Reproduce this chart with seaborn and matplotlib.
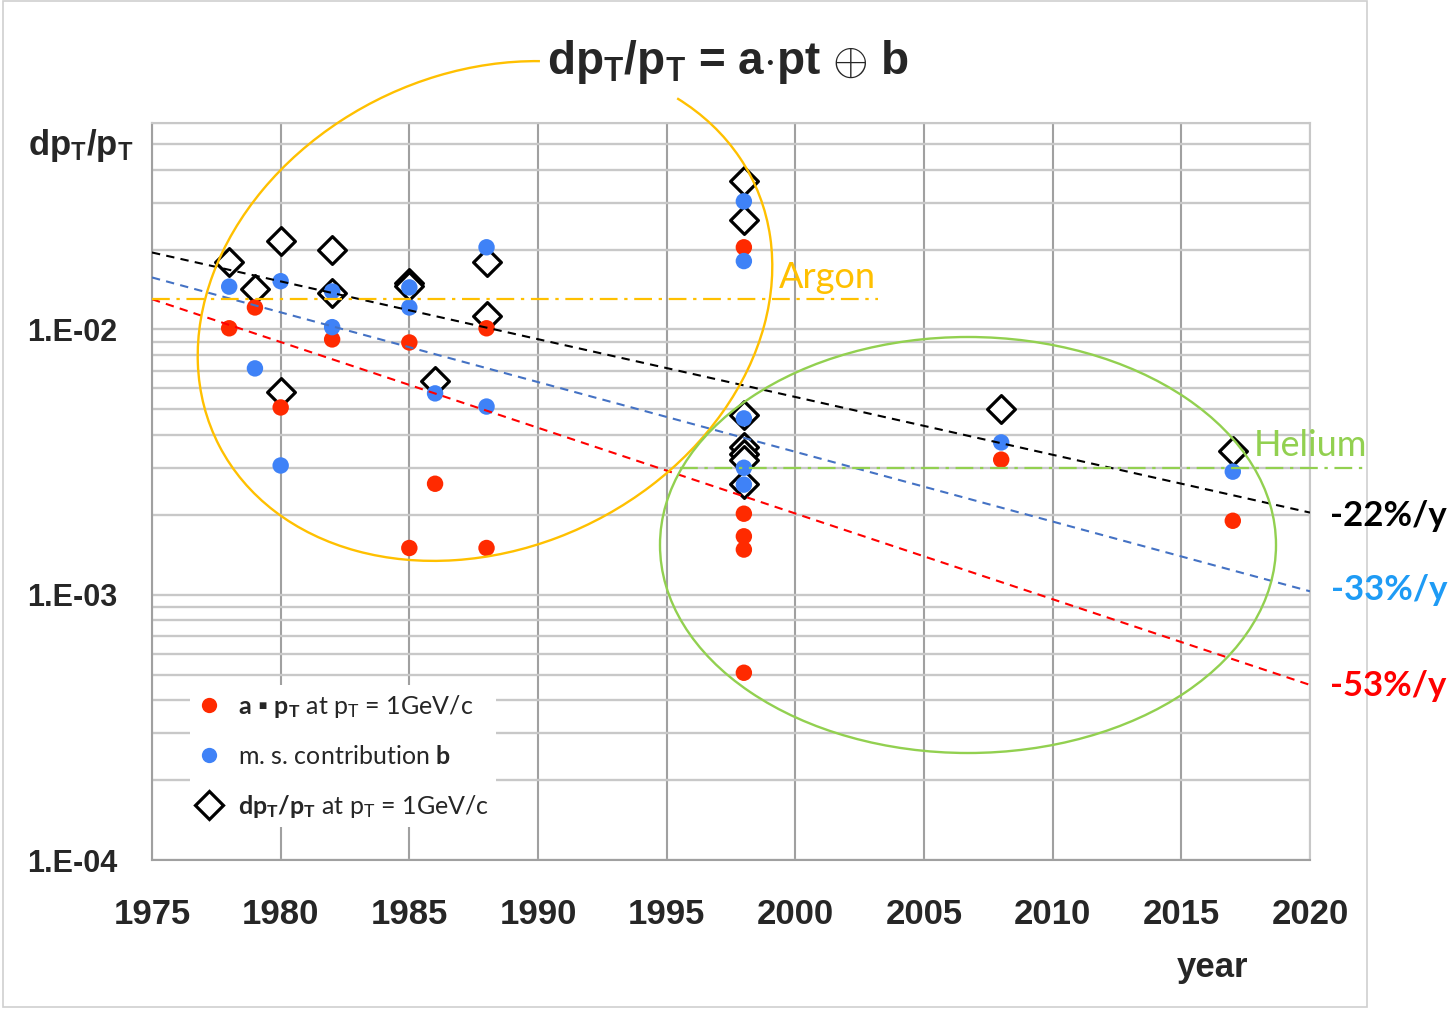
import numpy as np
import pandas as pd
import matplotlib
matplotlib.use("Agg")
import matplotlib.pyplot as plt
import seaborn as sns
from matplotlib.patches import Arc, Ellipse, Rectangle
from matplotlib.lines import Line2D
from matplotlib.ticker import LogLocator, NullFormatter, FuncFormatter, FixedLocator

# ---------------- data ----------------
red_years = [1978, 1979, 1980, 1982, 1985, 1985, 1986, 1988, 1988,
             1998, 1998, 1998, 1998, 1998, 2008, 2017]
red_vals = [0.0101, 0.0121, 0.00508, 0.00917, 0.00893, 0.0015, 0.00262, 0.0101, 0.0015,
            0.0204, 0.00202, 0.00166, 0.00148, 0.000508, 0.00323, 0.0019]

blue_years = [1978, 1979, 1980, 1980, 1982, 1982, 1985, 1985, 1986, 1988, 1988,
              1998, 1998, 1998, 1998, 1998, 2008, 2017]
blue_vals = [0.0145, 0.00713, 0.0152, 0.00307, 0.0139, 0.0102, 0.0144, 0.0121, 0.00574, 0.0204, 0.00512,
             0.0304, 0.0181, 0.00462, 0.00301, 0.0026, 0.00375, 0.00291]

dia_years = [1978, 1979, 1980, 1980, 1982, 1982, 1985, 1985, 1986, 1988, 1988,
             1998, 1998, 1998, 1998, 1998, 1998, 1998, 2008, 2017]
dia_vals = [0.0179, 0.01416, 0.0215, 0.00583, 0.020, 0.0137, 0.0150, 0.0146, 0.00637, 0.0179, 0.0112,
            0.0362, 0.0258, 0.00474, 0.00359, 0.00338, 0.00323, 0.00262, 0.00503, 0.00349]

trend_years = [1975, 2020]
trend_black = [0.0195, 0.00204]   # -22%/y
trend_blue = [0.0157, 0.00103]    # -33%/y
trend_red = [0.0130, 0.000457]    # -53%/y

argon_years = [1975, 2003.2]
argon_level = [0.013, 0.013]
helium_years = [1995.5, 2022.25]
helium_level = [0.003, 0.003]

x_ticks = [1975, 1980, 1985, 1990, 1995, 2000, 2005, 2010, 2015, 2020]
y_ticks = [1e-4, 1e-3, 1e-2]

# ---------------- style ----------------
sns.set_style("white")
plt.rcParams['font.family'] = ['Liberation Sans', 'DejaVu Sans']
plt.rcParams['mathtext.fontset'] = 'custom'
plt.rcParams['mathtext.rm'] = 'Lato'
plt.rcParams['mathtext.it'] = 'Lato:italic'
plt.rcParams['mathtext.bf'] = 'Lato:bold'

W, H = 1448, 1009
fig = plt.figure(figsize=(W / 100, H / 100), dpi=100)
ax = fig.add_axes([152 / W, (H - 860) / H, (1310 - 152) / W, (860 - 123) / H])


def fx(x):
    return x / W


def fy(y):
    return 1 - y / H


RED = '#FF2A00'
BLUE = '#3F82F7'

df_red = pd.DataFrame({'year': red_years, 'val': red_vals})
df_blue = pd.DataFrame({'year': blue_years, 'val': blue_vals})
df_dia = pd.DataFrame({'year': dia_years, 'val': dia_vals})

sns.scatterplot(data=df_dia, x='year', y='val', ax=ax, marker='D', s=200,
                facecolor='white', edgecolor='black', linewidth=2.3, zorder=3, legend=False)
sns.scatterplot(data=df_red, x='year', y='val', ax=ax, marker='o', s=140,
                color=RED, edgecolor='none', linewidth=0, zorder=4, legend=False)
sns.scatterplot(data=df_blue, x='year', y='val', ax=ax, marker='o', s=140,
                color=BLUE, edgecolor='none', linewidth=0, zorder=5, legend=False)

ax.plot(trend_years, trend_black, ls=(0, (4, 3)), color='black', lw=1.5, zorder=6)
ax.plot(trend_years, trend_blue, ls=(0, (4, 3)), color='#4472C4', lw=1.5, zorder=6)
ax.plot(trend_years, trend_red, ls=(0, (4, 3)), color='#FF0000', lw=1.5, zorder=6)

ax.plot(argon_years, argon_level, ls=(0, (8, 3, 1.5, 3)), color='#FFC000', lw=1.6, zorder=6, clip_on=False)
ax.plot(helium_years, helium_level, ls=(0, (8, 3, 1.5, 3)), color='#92D050', lw=1.6, zorder=6, clip_on=False)

ax.set_yscale('log')
ax.set_ylim(1e-4, 6e-2)
ax.set_xlim(1975, 2020)
ax.xaxis.set_major_locator(FixedLocator(x_ticks))
ax.yaxis.set_major_locator(FixedLocator(y_ticks))
ax.yaxis.set_minor_locator(LogLocator(base=10, subs=np.arange(2, 10)))
ax.yaxis.set_minor_formatter(NullFormatter())
ax.yaxis.set_major_formatter(FuncFormatter(lambda v, p: "1.E{:+03d}".format(int(round(np.log10(v))))))
ax.set_xlabel('')
ax.set_ylabel('')

ax.grid(which='both', axis='y', color='#C8C8C8', lw=1.7, zorder=0)
ax.grid(which='major', axis='x', color='#A0A0A0', lw=1.5, zorder=0)
ax.set_axisbelow(True)
for sp in ['left', 'bottom']:
    ax.spines[sp].set_color('#A0A0A0')
    ax.spines[sp].set_linewidth(1.5)
for sp in ['top', 'right']:
    ax.spines[sp].set_color('#C8C8C8')
    ax.spines[sp].set_linewidth(1.5)

ax.tick_params(axis='both', which='major', length=7, width=1.3, color='#A0A0A0')
ax.tick_params(axis='y', which='minor', length=0)
ax.tick_params(axis='x', which='major', pad=20, labelsize=25)
ax.tick_params(axis='y', which='major', pad=18, labelsize=22)
for lab in ax.get_xticklabels() + ax.get_yticklabels():
    lab.set_fontweight('bold')

# legend
handles = [
    Line2D([], [], ls='none', marker='o', markersize=11, color=RED, markeredgewidth=0),
    Line2D([], [], ls='none', marker='o', markersize=11, color=BLUE, markeredgewidth=0),
    Line2D([], [], ls='none', marker='D', markersize=14, markerfacecolor='white',
           markeredgecolor='black', markeredgewidth=2.3),
]
labels = [
    r"$\mathbf{a}$ ▪ $\mathbf{p_T}$ at p$_\mathrm{T}$ = 1GeV/c",
    r"m. s. contribution $\mathbf{b}$",
    r"$\mathbf{dp_T/p_T}$ at p$_\mathrm{T}$ = 1GeV/c",
]
leg = ax.legend(handles, labels, loc='upper left', bbox_to_anchor=(0.033, 0.237),
                frameon=True, facecolor='white', edgecolor='none', framealpha=1,
                prop={'family': ['Lato', 'DejaVu Sans'], 'size': 18},
                handlelength=0.9, handletextpad=0.7, labelspacing=1.0, borderpad=0.3,
                borderaxespad=0, fancybox=False)
leg.set_zorder(7)

# texts
fig.text(fx(728), fy(62), r"dp$_\mathbf{T}$/p$_\mathbf{T}$ = a$\cdot$pt $\mathbf{\oplus}$ b",
         ha='center', va='center', fontsize=33, fontweight='bold')
fig.text(fx(28), fy(146), r"dp$_\mathbf{T}$/p$_\mathbf{T}$", ha='left', va='center',
         fontsize=25, fontweight='bold')
fig.text(fx(1213), fy(967), 'year', ha='center', va='center', fontsize=25, fontweight='bold')
fig.text(fx(779), fy(277), 'Argon', ha='left', va='center', fontsize=26, color='#FFC000', family='Lato')
fig.text(fx(1254), fy(446), 'Helium', ha='left', va='center', fontsize=26, color='#92D050', family='Lato')
fig.text(fx(1330), fy(516), '-22%/y', ha='left', va='center', fontsize=25, color='black',
         fontweight='bold', family='Lato')
fig.text(fx(1331), fy(590), '-33%/y', ha='left', va='center', fontsize=25, color='#1E9BF5',
         fontweight='bold', family='Lato')
fig.text(fx(1330), fy(686), '-53%/y', ha='left', va='center', fontsize=25, color='#FF0000',
         fontweight='bold', family='Lato')

# ellipses (drawing shapes in figure inches)
tr = fig.dpi_scale_trans
arc = Arc((4.85, (H - 311) / 100), 5.96, 4.74, angle=26, theta1=51.6, theta2=381.9,
          color='#FFC000', lw=1.7, transform=tr, clip_on=False, zorder=8)
fig.add_artist(arc)
ell = Ellipse((9.68, (H - 545) / 100), 6.16, 4.16, angle=0, fill=False,
              edgecolor='#92D050', lw=1.7, transform=tr, clip_on=False, zorder=8)
fig.add_artist(ell)

# figure border
fig.add_artist(Rectangle((3 / W, 2 / H), (1367 - 3) / W, (H - 3) / H, transform=fig.transFigure,
                         fill=False, edgecolor='#CFCFCF', lw=1.2))

fig.savefig('out.png', dpi=100)
